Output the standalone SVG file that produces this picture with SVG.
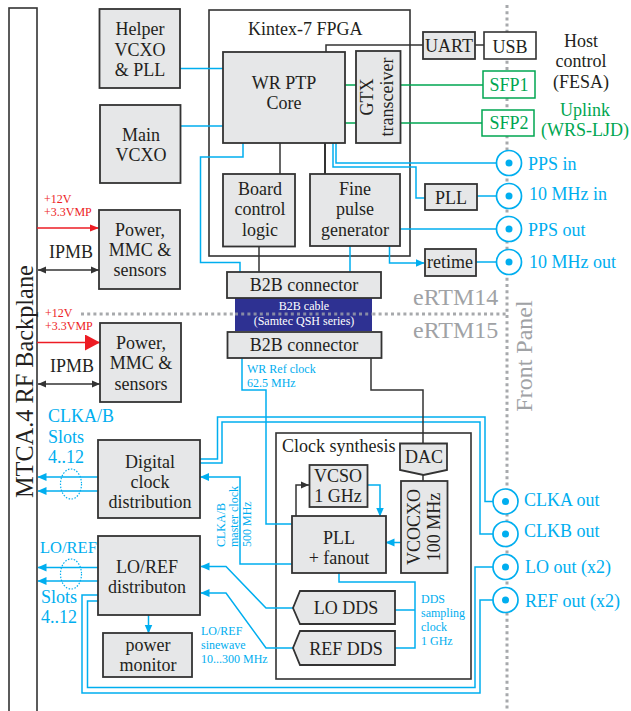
<svg xmlns="http://www.w3.org/2000/svg" width="631" height="711" viewBox="0 0 631 711">
<defs>
<style>
text{font-family:"Liberation Serif","Times New Roman",serif;fill:#231f20;font-size:18px}
.c{text-anchor:middle}
.b{fill:#e6e7e8;stroke:#333;stroke-width:1.8}
.w{fill:#fff;stroke:#333;stroke-width:1.6}
.n{fill:none;stroke:#333;stroke-width:1.5}
.bl{fill:none;stroke:#00aeef;stroke-width:1.5}
.gr{fill:none;stroke:#00a651;stroke-width:1.5}
.tb{fill:#00aeef}
.tg{fill:#00a651}
.tr{fill:#ed1c24;font-size:12px}
.s{fill:#00aeef;font-size:12px}
.g{fill:#a0a2a5;font-size:24px}
.dot{fill:none;stroke:#a7a9ac;stroke-width:3;stroke-dasharray:3 3.2}
.o{fill:#fff;stroke:#00aeef;stroke-width:1.7}
</style>
<marker id="ab" markerUnits="userSpaceOnUse" markerWidth="9" markerHeight="10" refX="8.5" refY="5" orient="auto-start-reverse"><path d="M0 1L9 5L0 9Z" fill="#00aeef"/></marker>
<marker id="ak" markerUnits="userSpaceOnUse" markerWidth="8" markerHeight="8" refX="8" refY="4" orient="auto-start-reverse"><path d="M0 .5L8 4L0 7.5Z" fill="#333"/></marker>
<marker id="ar" markerUnits="userSpaceOnUse" markerWidth="9" markerHeight="8" refX="9" refY="4" orient="auto"><path d="M0 .5L9 4L0 7.5Z" fill="#ed1c24"/></marker>
<marker id="arb" markerUnits="userSpaceOnUse" markerWidth="15" markerHeight="16" refX="15" refY="8" orient="auto"><path d="M0 0L15 8L0 16Z" fill="#ed1c24"/></marker>
</defs>

<g id="dividers">
<path class="dot" d="M507 5V711"/>
<path class="dot" d="M81 314H507"/>
</g>

<g id="backplane"><rect class="w" x="9" y="8" width="28" height="704"/>
<text transform="translate(33 498) rotate(-90)" style="font-size:24.300px">MTCA.4 RF Backplane</text></g>

<g id="fpga"><rect class="w" x="209" y="10" width="201" height="246"/><text x="248" y="35">Kintex-7 FPGA</text></g>
<g id="clock-synthesis"><rect class="w" x="276" y="433" width="195" height="246"/><text x="282" y="452">Clock synthesis</text></g>

<g id="connectors">
<g class="bl">
<path d="M180 68.500H223"/>
<path d="M180 126H223"/>
<path d="M243 143V157H200.500V262.500H240V272"/>
<path d="M336 143V163H497"/>
<path d="M333 143V167H416V198H425"/>
<path d="M477 196H497"/>
<path d="M400 229H497"/>
<path d="M350 246V272"/>
<path d="M389.500 246V263H424" marker-end="url(#ab)"/>
<path d="M476 262H497"/>
<path d="M242 358V390H266V524H292"/>
<path d="M200 459H217.500V417H485V501.500H497"/>
<path d="M200 463H222V422H480V534H497"/>
<path d="M292 564H240V477H200.500" marker-end="url(#ab)"/>
<path d="M98 477H38" marker-end="url(#ab)"/>
<path d="M98 491H38" marker-end="url(#ab)"/>
<path d="M98 567.500H38" marker-end="url(#ab)"/>
<path d="M98 581H38" marker-end="url(#ab)"/>
<path d="M293 608H266L226 566.500H201" marker-end="url(#ab)"/>
<path d="M293 648H266L226 593H201" marker-end="url(#ab)"/>
<path d="M98 595H82V693H480V600H497"/>
<path d="M98 601H87.500V687.500H475V567H497"/>
<path d="M148.500 615V633" marker-end="url(#ab)"/>
<path d="M367 485H380V516" marker-end="url(#ab)"/>
<path d="M401 542.500H386" marker-end="url(#ab)"/>
<path d="M339 573V582H415V648H395"/>
<path d="M395 610H415"/>
</g>
<g class="gr">
<path d="M345 85H356M400 85H483"/>
<path d="M345 123H356M400 123H482"/>
</g>
<g class="n">
<path d="M280 143V174"/>
<path d="M325 143V174" stroke-width="2"/>
<path d="M259 246V272"/>
<path d="M326 52V45H423"/>
<path d="M475 45H484"/>
<path d="M371 358V390H423V443"/>
<path d="M423 475V481"/>
<path d="M296 516V485H309" marker-end="url(#ak)"/>
<path d="M38 270H99" marker-start="url(#ak)" marker-end="url(#ak)"/>
<path d="M38 384H100" marker-start="url(#ak)" marker-end="url(#ak)"/>
</g>
<path d="M37 228H99" fill="none" stroke="#ed1c24" stroke-width="1.500" marker-end="url(#ar)"/>
<path d="M37 342.500H100" fill="none" stroke="#ed1c24" stroke-width="1.500" marker-end="url(#arb)"/>
<ellipse cx="71" cy="484" rx="10.500" ry="15" fill="none" stroke="#00aeef" stroke-width="1.200" stroke-dasharray="1.500 1.500"/>
<ellipse cx="71" cy="574" rx="10.500" ry="15" fill="none" stroke="#00aeef" stroke-width="1.200" stroke-dasharray="1.500 1.500"/>
</g>

<g id="helper"><rect class="b" x="99.500" y="9" width="80.500" height="79"/><text class="c" x="140" y="35">Helper</text><text class="c" x="140" y="56">VCXO</text><text class="c" x="140" y="76">&amp; PLL</text></g>
<g id="main-vcxo"><rect class="b" x="100" y="105" width="80.500" height="78"/><text class="c" x="141" y="141">Main</text><text class="c" x="141" y="161">VCXO</text></g>
<g id="wr-core"><rect class="b" x="223" y="52" width="122" height="91"/><text class="c" x="284" y="89">WR PTP</text><text class="c" x="284" y="109">Core</text></g>
<g id="gtx"><rect class="b" x="356" y="51" width="44.500" height="92"/><text class="c" transform="translate(373 97) rotate(-90)">GTX</text><text class="c" transform="translate(392.500 97) rotate(-90)">transceiver</text></g>
<g id="uart"><rect class="b" x="423" y="32" width="52" height="27"/><text class="c" x="449" y="52">UART</text></g>
<g id="usb"><rect class="w" x="484" y="32" width="52" height="27"/><text class="c" x="510" y="53">USB</text></g>
<g id="sfp1"><rect x="483" y="71" width="52" height="27" fill="#fff" stroke="#00a651" stroke-width="1.500"/><text class="c tg" x="509" y="91">SFP1</text></g>
<g id="sfp2"><rect x="482" y="110" width="52" height="26" fill="#fff" stroke="#00a651" stroke-width="1.500"/><text class="c tg" x="509" y="129">SFP2</text></g>
<g id="host"><text class="c" x="581" y="47">Host</text><text class="c" x="581" y="67">control</text><text class="c" x="581" y="88">(FESA)</text></g>
<g id="uplink"><text class="c tg" x="585" y="116">Uplink</text><text class="c tg" x="585" y="136">(WRS-LJD)</text></g>
<g id="board-control"><rect class="b" x="223" y="174" width="72" height="72.500"/><text class="c" x="260" y="195">Board</text><text class="c" x="260" y="215">control</text><text class="c" x="260" y="236">logic</text></g>
<g id="fine-pulse"><rect class="b" x="310" y="174" width="90" height="72"/><text class="c" x="355" y="195">Fine</text><text class="c" x="355" y="215">pulse</text><text class="c" x="355" y="236">generator</text></g>
<g id="pll-top"><rect class="b" x="425" y="184" width="52" height="26"/><text class="c" x="451" y="204">PLL</text></g>
<g id="retime"><rect class="b" x="425" y="249" width="51" height="27"/><text class="c" x="450" y="268">retime</text></g>

<g id="pps-in"><circle class="o" cx="509" cy="163" r="12.500"/><circle class="tb" cx="509" cy="163" r="3.500"/><text class="tb" x="528" y="170">PPS in</text></g>
<g id="mhz-in"><circle class="o" cx="509" cy="196" r="12.500"/><circle class="tb" cx="509" cy="196" r="3.500"/><text class="tb" x="529" y="200">10 MHz in</text></g>
<g id="pps-out"><circle class="o" cx="509" cy="229" r="12.500"/><circle class="tb" cx="509" cy="229" r="3.500"/><text class="tb" x="528" y="236">PPS out</text></g>
<g id="mhz-out"><circle class="o" cx="509" cy="262" r="12.500"/><circle class="tb" cx="509" cy="262" r="3.500"/><text class="tb" x="529" y="268">10 MHz out</text></g>
<g id="clka-out"><circle class="o" cx="505.500" cy="501.500" r="12.500"/><circle class="tb" cx="505.500" cy="501.500" r="3.500"/><text class="tb" x="524" y="506">CLKA out</text></g>
<g id="clkb-out"><circle class="o" cx="505.500" cy="534" r="12.500"/><circle class="tb" cx="505.500" cy="534" r="3.500"/><text class="tb" x="524" y="537">CLKB out</text></g>
<g id="lo-out"><circle class="o" cx="505.500" cy="567" r="12.500"/><circle class="tb" cx="505.500" cy="567" r="3.500"/><text class="tb" x="525" y="573">LO out (x2)</text></g>
<g id="ref-out"><circle class="o" cx="505.500" cy="600" r="12.500"/><circle class="tb" cx="505.500" cy="600" r="3.500"/><text class="tb" x="525" y="607">REF out (x2)</text></g>

<g id="b2b-cable"><rect x="235" y="298" width="137" height="33" fill="#2e3192"/><text class="c" x="304" y="310" style="fill:#fff;font-size:12px">B2B cable</text><text class="c" x="304" y="325" style="fill:#fff;font-size:12px">(Samtec QSH series)</text></g>
<path class="dot" d="M235 314H372" opacity=".75"/>
<g id="b2b-top"><rect class="b" x="227" y="272" width="154" height="26"/><text class="c" x="304" y="291">B2B connector</text></g>
<g id="b2b-bottom"><rect class="b" x="227.500" y="332" width="154" height="26"/><text class="c" x="304" y="351">B2B connector</text></g>

<g id="labels">
<text class="g" x="413" y="305">eRTM14</text>
<text class="g" x="413" y="338">eRTM15</text>
<text class="g c" transform="translate(532 356) rotate(-90)">Front Panel</text>
<text class="tr" x="44" y="203">+12V</text><text class="tr" x="44" y="216">+3.3VMP</text>
<text class="tr" x="45" y="317">+12V</text><text class="tr" x="45" y="330">+3.3VMP</text>
<text x="49" y="258">IPMB</text><text x="50" y="372">IPMB</text>
<text class="s" x="247" y="373">WR Ref clock</text><text class="s" x="247" y="387">62.5 MHz</text>
<text class="tb" x="48" y="422">CLKA/B</text><text class="tb" x="48" y="443">Slots</text><text class="tb" x="48" y="463">4..12</text>
<text class="tb" x="40" y="553" style="font-size:16.500px">LO/REF</text><text class="tb" x="41" y="603">Slots</text><text class="tb" x="41" y="623">4..12</text>
<text class="s" transform="translate(225 547) rotate(-90)">CLKA/B</text>
<text class="s" transform="translate(238 547) rotate(-90)">master clock</text>
<text class="s" transform="translate(250.500 547) rotate(-90)">500 MHz</text>
<text class="s" x="201" y="635">LO/REF</text><text class="s" x="201" y="649">sinewave</text><text class="s" x="201" y="663">10...300 MHz</text>
<text class="s" x="421" y="603">DDS</text><text class="s" x="421" y="617">sampling</text><text class="s" x="421" y="631">clock</text><text class="s" x="421" y="645">1 GHz</text>
</g>

<g id="power1"><rect class="b" x="99" y="210" width="81" height="79"/><text class="c" x="140" y="236">Power,</text><text class="c" x="140" y="256">MMC &amp;</text><text class="c" x="140" y="276">sensors</text></g>
<g id="power2"><rect class="b" x="100" y="323" width="81" height="79"/><text class="c" x="141" y="349">Power,</text><text class="c" x="141" y="369">MMC &amp;</text><text class="c" x="141" y="390">sensors</text></g>
<g id="digital-clock"><rect class="b" x="98" y="440" width="102" height="78"/><text class="c" x="150" y="468">Digital</text><text class="c" x="150" y="488">clock</text><text class="c" x="150" y="508">distribution</text></g>
<g id="lo-ref"><rect class="b" x="98" y="536" width="102" height="79"/><text class="c" x="147" y="573">LO/REF</text><text class="c" x="147" y="593">distributon</text></g>
<g id="power-monitor"><rect class="b" x="103" y="633" width="89" height="44"/><text class="c" x="148" y="651">power</text><text class="c" x="148" y="671">monitor</text></g>
<g id="dac"><path class="b" d="M400 443.500H447V470L423.500 475L400 470Z"/><text class="c" x="424" y="463">DAC</text></g>
<g id="vcocxo"><rect class="b" x="401" y="481" width="46.500" height="92"/><text class="c" transform="translate(420 527) rotate(-90)">VCOCXO</text><text class="c" transform="translate(440 527) rotate(-90)">100 MHz</text></g>
<g id="vcso"><rect class="b" x="309.500" y="465" width="58" height="42"/><text class="c" x="338" y="482">VCSO</text><text class="c" x="338" y="502">1 GHz</text></g>
<g id="pll-fanout"><rect class="b" x="292" y="516" width="94" height="57"/><text class="c" x="339" y="544">PLL</text><text class="c" x="339" y="564">+ fanout</text></g>
<g id="lo-dds"><path class="b" d="M300 591H395V624H300L293 608Z"/><text class="c" x="346" y="614">LO DDS</text></g>
<g id="ref-dds"><path class="b" d="M300 631H395V665H300L293 648Z"/><text class="c" x="346" y="655">REF DDS</text></g>
</svg>
